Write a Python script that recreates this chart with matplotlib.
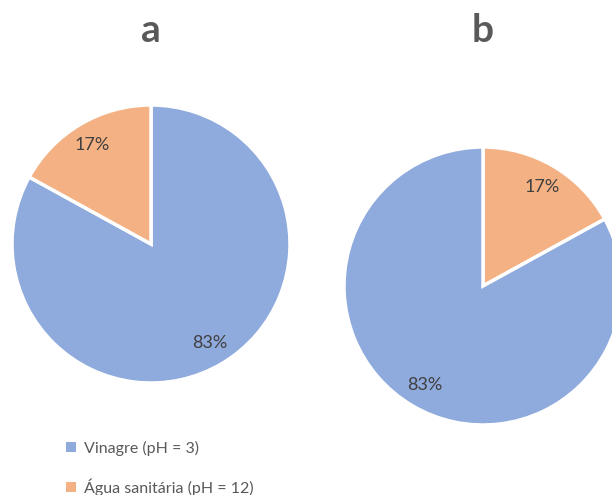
import matplotlib.pyplot as plt
from matplotlib.patches import Patch

plt.rcParams['font.family'] = ['Lato', 'DejaVu Sans']

labels = ['Vinagre (pH = 3)', 'Água sanitária (pH = 12)']
colors = ['#8FAADC', '#F4B183']

# a: vinagre first, b: água sanitária first (clockwise from 12 o'clock)
vals_a = [83, 17]
vals_b = [17, 83]

fig = plt.figure(figsize=(6.12, 4.95), dpi=100)
ax = fig.add_axes([0, 0, 1, 1])

wp = dict(edgecolor='white', linewidth=2.5)
tp = dict(fontsize=13, color='#404040')

ax.pie(vals_a, colors=colors, startangle=90, counterclock=False,
       center=(151, 251), radius=139, autopct='%d%%', pctdistance=0.83,
       wedgeprops=wp, textprops=tp, frame=True)
ax.pie(vals_b, colors=colors[::-1], startangle=90, counterclock=False,
       center=(483, 209), radius=139, autopct='%d%%', pctdistance=0.83,
       wedgeprops=wp, textprops=tp, frame=True)
ax.set_xlim(0, 612)
ax.set_ylim(0, 495)
ax.set_aspect('equal')
ax.axis('off')

ax.text(151, 465, 'a', ha='center', va='center', fontsize=28,
        fontweight='bold', color='#595959')
ax.text(483, 465, 'b', ha='center', va='center', fontsize=28,
        fontweight='bold', color='#595959')

handles = [Patch(facecolor=c, edgecolor='none') for c in colors]
fig.legend(handles, labels, loc='center left', bbox_to_anchor=(0.085, 0.054),
           frameon=False, fontsize=11.5, labelcolor='#595959',
           handlelength=0.6, handleheight=0.6, handletextpad=0.5,
           labelspacing=1.4)

fig.savefig('out.png', dpi=100)
